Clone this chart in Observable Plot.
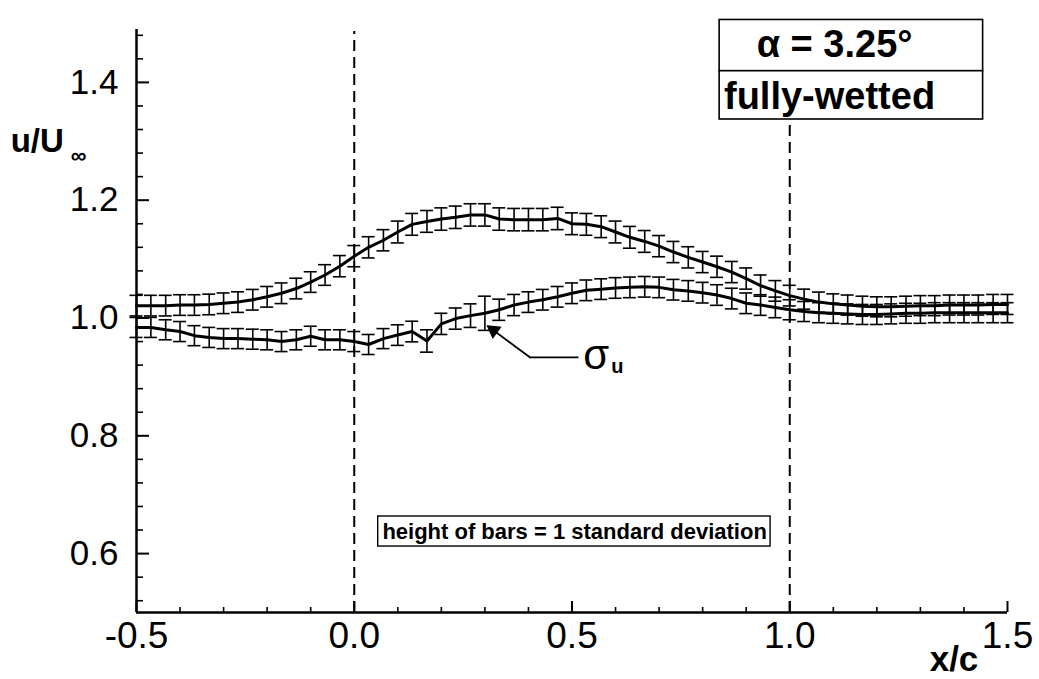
<!DOCTYPE html>
<html><head><meta charset="utf-8">
<script src="https://cdn.jsdelivr.net/npm/d3@7"></script>
<script src="https://cdn.jsdelivr.net/npm/@observablehq/plot@0.6"></script>
<style>
body{margin:0;background:#fff;}
#chart{position:relative;width:1039px;height:679px;}
</style>
</head><body><div id="chart"></div>
<script>
// ---- data ----
const xPos = [-0.5,-0.467,-0.433,-0.4,-0.367,-0.333,-0.3,-0.267,-0.233,-0.2,-0.167,-0.133,-0.1,-0.067,-0.033,
  0,0.033,0.067,0.1,0.133,0.167,0.2,0.233,0.267,0.3,0.333,0.367,0.4,0.433,0.467,
  0.5,0.533,0.567,0.6,0.633,0.667,0.7,0.733,0.767,0.8,0.833,0.867,0.9,0.933,0.967,
  1.0,1.033,1.067,1.1,1.133,1.167,1.2,1.233,1.267,1.3,1.333,1.367,1.4,1.433,1.467,1.5];
const upperU = [1.021,1.021,1.021,1.022,1.022,1.023,1.025,1.027,1.031,1.036,1.042,1.050,1.061,1.073,1.088,
  1.105,1.120,1.132,1.146,1.159,1.164,1.168,1.171,1.175,1.175,1.168,1.167,1.167,1.167,1.169,
  1.160,1.159,1.155,1.146,1.137,1.130,1.122,1.112,1.103,1.095,1.087,1.078,1.067,1.055,1.046,
  1.038,1.032,1.027,1.024,1.022,1.020,1.019,1.019,1.020,1.021,1.021,1.022,1.022,1.022,1.023,1.023];
const upperSD = [0.035,0.035,0.035,0.035,0.035,0.035,0.035,0.035,0.035,0.035,0.035,0.035,0.035,0.035,0.036,
  0.036,0.036,0.036,0.037,0.037,0.037,0.038,0.038,0.038,0.038,0.038,0.038,0.038,0.038,0.038,
  0.037,0.037,0.037,0.037,0.037,0.037,0.036,0.036,0.036,0.036,0.036,0.036,0.036,0.036,0.035,
  0.035,0.034,0.034,0.034,0.034,0.034,0.034,0.034,0.034,0.034,0.034,0.034,0.034,0.034,0.034,0.034];
const lowerU = [0.984,0.984,0.980,0.977,0.970,0.967,0.965,0.965,0.964,0.963,0.960,0.963,0.969,0.963,0.963,
  0.960,0.955,0.965,0.971,0.977,0.961,0.990,0.999,1.004,1.008,1.014,1.022,1.027,1.031,1.036,
  1.042,1.047,1.049,1.051,1.052,1.053,1.052,1.048,1.046,1.043,1.039,1.033,1.025,1.022,1.018,
  1.014,1.011,1.009,1.008,1.007,1.006,1.006,1.007,1.008,1.008,1.009,1.009,1.009,1.009,1.009,1.009];
const lowerSD = [0.034,0.034,0.034,0.034,0.034,0.034,0.034,0.034,0.034,0.034,0.034,0.034,0.034,0.034,0.034,
  0.034,0.034,0.034,0.035,0.035,0.038,0.036,0.036,0.040,0.058,0.036,0.036,0.035,0.035,0.035,
  0.035,0.035,0.035,0.035,0.035,0.035,0.035,0.035,0.035,0.035,0.035,0.035,0.035,0.035,0.035,
  0.034,0.034,0.034,0.034,0.034,0.034,0.034,0.034,0.034,0.034,0.034,0.034,0.034,0.034,0.034,0.034];

const xTicksMajor = [-0.5, 0, 0.5, 1.0, 1.5];
const xTicksMinor = [-0.4,-0.3,-0.2,-0.1,0.1,0.2,0.3,0.4,0.6,0.7,0.8,0.9,1.1,1.2,1.3,1.4];
const yTicksMajor = [0.6, 0.8, 1.0, 1.2, 1.4];
const yTicksMinor = [0.52,0.56,0.64,0.68,0.72,0.76,0.84,0.88,0.92,0.96,1.04,1.08,1.12,1.16,1.24,1.28,1.32,1.36,1.44,1.48];
const dashedX = [0, 1];

// annotations (data coordinates)
const titleBoxes = [
  {x1: 0.839, x2: 1.444, y1: 1.419, y2: 1.506},
  {x1: 0.839, x2: 1.444, y1: 1.337, y2: 1.419}
];
const noteBox = [{x1: 0.055, x2: 0.956, y1: 0.612, y2: 0.663}];
const sigmaArrow = [{x1: 0.404, y1: 0.933, x2: 0.318, y2: 0.980}];
const sigmaHead = [{x: 0.320, y: 0.979}];
const sigmaLeader = [{x1: 0.404, x2: 0.516, y: 0.933}];

// ---- layout ----
const W = 1039, H = 679, mL = 136, mR = 32, mT = 23, mB = 67;
const xDom = [-0.5, 1.5], yDom = [0.5, 1.5];
const pxX = (xDom[1] - xDom[0]) / (W - mL - mR); // data per px (x)
const pxY = (yDom[1] - yDom[0]) / (H - mT - mB); // data per px (y)
const capHalf = 6.5 * pxX;
const FONT = "'Liberation Sans', Arial, Helvetica, sans-serif";

function rows(vals, sds) {
  return xPos.map((x, i) => ({x, y: vals[i], lo: vals[i] - sds[i] / 2, hi: vals[i] + sds[i] / 2}));
}
const upper = rows(upperU, upperSD);
const lower = rows(lowerU, lowerSD);

function seriesMarks(data) {
  return [
    Plot.ruleX(data, {x: "x", y1: "lo", y2: "hi", stroke: "#000", strokeWidth: 1.6}),
    Plot.ruleY(data, {y: "lo", x1: d => d.x - capHalf, x2: d => d.x + capHalf, stroke: "#000", strokeWidth: 1.6}),
    Plot.ruleY(data, {y: "hi", x1: d => d.x - capHalf, x2: d => d.x + capHalf, stroke: "#000", strokeWidth: 1.6}),
    Plot.line(data, {x: "x", y: "y", stroke: "#000", strokeWidth: 3})
  ];
}

const chart = Plot.plot({
  width: W, height: H,
  marginLeft: mL, marginRight: mR, marginTop: mT, marginBottom: mB,
  style: {fontFamily: FONT, background: "#fff", color: "#000"},
  x: {domain: xDom},
  y: {domain: yDom},
  marks: [
    // dashed reference lines
    Plot.ruleX(dashedX, {x: d => d, y1: yDom[0], y2: yDom[1] - 8 * pxY, stroke: "#000", strokeWidth: 2, strokeDasharray: "11,6"}),
    ...seriesMarks(upper),
    ...seriesMarks(lower),
    // axis lines
    Plot.ruleX([xDom[0]], {x: d => d, y1: yDom[0], y2: yDom[1] - 6 * pxY, stroke: "#000", strokeWidth: 2.5}),
    Plot.ruleY([yDom[0]], {y: d => d, x1: xDom[0], x2: xDom[1], stroke: "#000", strokeWidth: 2.5}),
    // inward ticks
    Plot.ruleX(xTicksMajor, {x: d => d, y1: yDom[0], y2: yDom[0] + 11 * pxY, stroke: "#000", strokeWidth: 2}),
    Plot.ruleX(xTicksMinor, {x: d => d, y1: yDom[0], y2: yDom[0] + 5 * pxY, stroke: "#000", strokeWidth: 1.6}),
    Plot.ruleY(yTicksMajor, {y: d => d, x1: xDom[0], x2: xDom[0] + 13 * pxX, stroke: "#000", strokeWidth: 2}),
    Plot.ruleY(yTicksMinor, {y: d => d, x1: xDom[0], x2: xDom[0] + 7 * pxX, stroke: "#000", strokeWidth: 1.6}),
    // tick labels
    Plot.axisX({ticks: xTicksMajor, tickSize: 0, tickPadding: 9, tickFormat: d => d.toFixed(1), fontSize: 37, label: null}),
    Plot.axisY({ticks: yTicksMajor, tickSize: 0, tickPadding: 18, tickFormat: d => d.toFixed(1), fontSize: 35, label: null}),
    // axis titles
    Plot.text(["u/U"], {x: -0.789, y: 1.300, text: d => d, textAnchor: "start", fontSize: 33, fontWeight: "bold"}),
    Plot.text(["\u221E"], {x: -0.651, y: 1.275, text: d => d, textAnchor: "start", fontSize: 22, fontWeight: "bold"}),
    Plot.text(["x/c"], {x: 1.433, y: 0.419, text: d => d, textAnchor: "end", fontSize: 35, fontWeight: "bold"}),
    // title boxes
    Plot.rect(titleBoxes, {x1: "x1", x2: "x2", y1: "y1", y2: "y2", fill: "#fff", stroke: "#000", strokeWidth: 1.6}),
    Plot.text(["\u03B1 = 3.25\u00B0"], {x: 1.103, y: 1.463, text: d => d, fontSize: 38, fontWeight: "bold"}),
    Plot.text(["fully-wetted"], {x: 0.849, y: 1.376, text: d => d, textAnchor: "start", fontSize: 38, fontWeight: "bold"}),
    // note box
    Plot.rect(noteBox, {x1: "x1", x2: "x2", y1: "y1", y2: "y2", fill: "#fff", stroke: "#000", strokeWidth: 1.4}),
    Plot.text(["height of bars = 1 standard deviation"], {x: 0.506, y: 0.6375, text: d => d, fontSize: 22, fontWeight: "bold"}),
    // sigma_u annotation
    Plot.arrow(sigmaArrow, {x1: "x1", y1: "y1", x2: "x2", y2: "y2", stroke: "#000", strokeWidth: 1.8, headLength: 0}),
    Plot.dot(sigmaHead, {x: "x", y: "y", symbol: "triangle", r: 5, rotate: -54, fill: "#000", stroke: "#000", strokeWidth: 1}),
    Plot.ruleY(sigmaLeader, {y: "y", x1: "x1", x2: "x2", stroke: "#000", strokeWidth: 1.8}),
    Plot.text(["\u03C3"], {x: 0.526, y: 0.937, text: d => d, textAnchor: "start", fontSize: 42}),
    Plot.text(["u"], {x: 0.590, y: 0.918, text: d => d, textAnchor: "start", fontSize: 20, fontWeight: "bold"})
  ]
});
document.getElementById("chart").appendChild(chart);
</script>
</body></html>
